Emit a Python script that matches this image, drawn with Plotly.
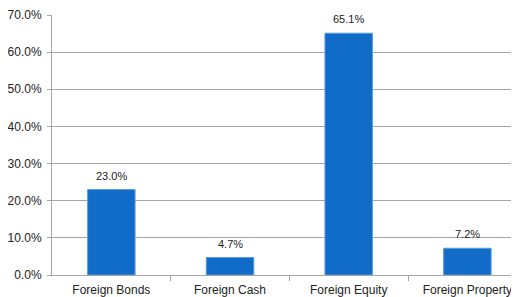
import plotly.graph_objects as go

categories = ["Foreign Bonds", "Foreign Cash", "Foreign Equity", "Foreign Property"]
values = [0.230, 0.047, 0.651, 0.072]
tick_vals = [0, 0.1, 0.2, 0.3, 0.4, 0.5, 0.6, 0.7]
tick_text = ["0.0%", "10.0%", "20.0%", "30.0%", "40.0%", "50.0%", "60.0%", "70.0%"]

FONT = "Liberation Sans, Arial, sans-serif"

fig = go.Figure()
fig.add_trace(go.Bar(
    x=list(range(len(categories))), y=values, width=0.4,
    marker=dict(color="#106CC8", line=dict(color="#5A9BDE", width=1)),
    hoverinfo="skip",
))
for i, v in enumerate(values):
    fig.add_annotation(x=i, y=v, text=f"{v*100:.1f}%", showarrow=False,
                       yanchor="bottom", yshift=6,
                       font=dict(family=FONT, size=11, color="#222222"))

# page body has an 8px default margin, so the figure is sized to fit the 519x297 window
fig.update_layout(
    width=511, height=289,
    margin=dict(l=44, r=0, t=7, b=22, autoexpand=False),
    plot_bgcolor="white", paper_bgcolor="white",
    showlegend=False,
    font=dict(family=FONT, size=12, color="#222222"),
)
fig.update_xaxes(
    range=[-0.5, 3.435], automargin=False,
    tickmode="array", tickvals=list(range(len(categories))), ticktext=categories,
    showgrid=False, showline=True, linecolor="#A6A6A6", linewidth=1,
    ticks="", zeroline=False, ticklabeloverflow="allow", ticklabelstandoff=4,
    tickfont=dict(family=FONT, size=12, color="#222222"),
    minor=dict(tickmode="array", tickvals=[0.5, 1.5, 2.5], ticks="outside",
               ticklen=5, tickcolor="#A6A6A6", showgrid=False),
)
fig.update_yaxes(
    range=[0, 0.7], automargin=False, tickmode="array", tickvals=tick_vals, ticktext=tick_text,
    showgrid=True, gridcolor="#A6A6A6", gridwidth=1,
    showline=True, linecolor="#A6A6A6", linewidth=1,
    ticks="outside", ticklen=4, tickcolor="#A6A6A6", ticklabeloverflow="allow",
    ticklabelstandoff=3,
    zeroline=False, tickfont=dict(family=FONT, size=12, color="#222222"),
)
fig.write_html("out.html")
